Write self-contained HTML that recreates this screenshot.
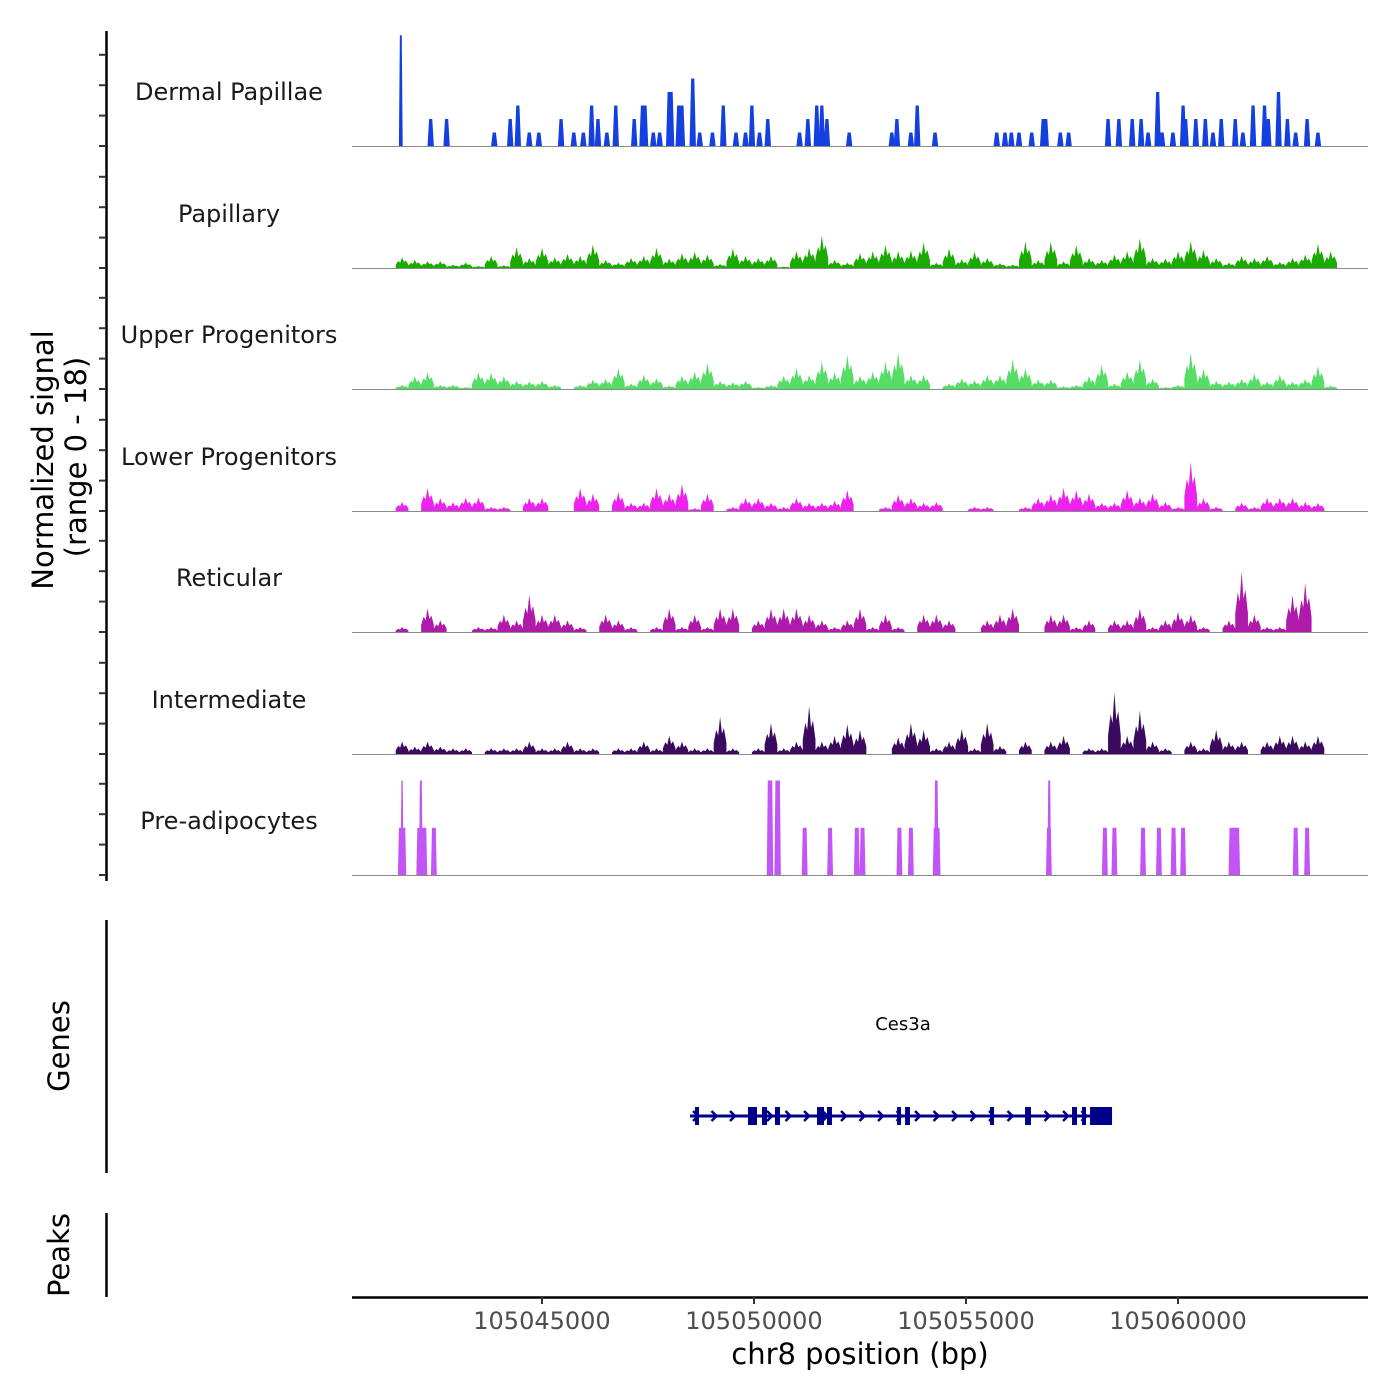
<!DOCTYPE html>
<html><head><meta charset="utf-8">
<style>
html,body{margin:0;padding:0;background:#fff;}
svg{display:block;font-family:"DejaVu Sans","Liberation Sans",sans-serif;}
</style></head>
<body>
<svg id="chart" width="1400" height="1400" viewBox="0 0 1400 1400" xmlns="http://www.w3.org/2000/svg">
<rect width="1400" height="1400" fill="#fff"/>
<g id="tracks"></g>
<g id="axes"></g>
<g id="genes"></g>
</svg>
<script>
// ---- data ----
const trackNames = ["Dermal Papillae","Papillary","Upper Progenitors","Lower Progenitors","Reticular","Intermediate","Pre-adipocytes"];
const trackColors = ["#1340de","#1aaa00","#55dd66","#ee22ee","#b01aaa","#3b0a5e","#c155f5"];
const xTicks = [105045000,105050000,105055000,105060000];
const xTickLabels = ["105045000","105050000","105055000","105060000"];
// Dermal papillae peak positions (bp) and heights (signal)
const dpPos = [105041670,105042375,105042750,105043875,105044250,105044430,105044700,105044925,105045450,105045750,105045975,105046170,105046320,105046530,105046740,105047175,105047370,105047430,105047625,105047775,105048000,105048045,105048225,105048300,105048555,105048720,105049020,105049275,105049575,105049800,105049950,105050130,105050325,105051075,105051270,105051480,105051600,105051720,105052245,105053250,105053370,105053700,105053850,105054270,105055725,105055920,105056070,105056250,105056550,105056820,105056880,105057225,105057420,105058350,105058605,105058920,105059130,105059295,105059520,105059625,105059880,105060120,105060180,105060420,105060645,105060825,105061020,105061350,105061530,105061770,105062040,105062130,105062370,105062580,105062775,105063045,105063300];
const dpVal = [16.4,4,4,2,4,6,2,2,4,2,2,6,4,2,6,4,6,6,2,2,8,8,6,6,10,2,2,6,2,2,6,2,4,2,4,6,6,4,2,2,4,2,6,2,2,2,2,2,2,4,4,2,2,4,4,4,4,2,8,2,2,6,4,4,4,2,4,4,2,6,6,4,8,4,2,4,2];
// binned tracks: bins of 300 bp starting at binStart
const binStart = 105041550;
const binSize = 300;
const papillary = [1.6,1.2,1.0,1.0,0.5,0.8,0.3,1.8,0.4,3.1,1.5,3.0,1.6,2.1,1.8,3.5,1.2,0.8,1.5,1.8,3.0,1.4,2.2,2.4,2.0,0.6,2.9,1.8,1.5,1.8,0.2,2.5,3.0,4.8,1.2,0.8,2.2,2.5,3.4,2.5,2.6,3.8,0.8,2.9,1.3,2.4,1.5,0.7,0.5,3.9,1.2,3.9,1.0,3.4,1.5,1.2,2.0,2.5,4.4,1.5,1.4,2.5,4.0,2.7,1.5,0.8,1.8,1.5,1.8,0.9,1.5,2.0,3.6,2.5];
const upperProg = [0.6,1.9,2.5,0.6,0.6,0.3,2.5,2.4,1.9,1.2,1.1,1.2,0.6,0,0.6,1.4,1.5,3.1,0.8,2.1,1.6,0.5,2.0,2.6,3.9,1.2,1.0,1.2,0.3,0.6,2.0,3.1,2.1,4.1,2.5,5.1,2.0,2.6,4.1,5.4,2.1,2.1,0,0.8,1.6,1.3,2.1,2.1,4.4,3.1,1.4,1.4,0.4,0.6,1.9,3.6,0.8,2.6,4.4,1.5,0.3,0.6,5.4,3.0,1.2,1.1,1.5,2.3,1.1,2.1,1.1,1.5,3.4,0.5];
const lowerProg = [1.35,0,3.4,1.9,1.3,2.0,2.0,0.6,0.6,0,1.95,1.95,0,0,3.4,2.6,0,2.8,1.25,1.25,3.4,2.6,4.0,0.4,2.6,0,0.6,1.95,1.95,1.25,0.6,1.95,1.25,1.25,1.5,3.1,0,0,0.6,2.4,1.95,1.25,1.35,0,0,0.6,0.6,0,0,0.6,1.95,2.5,3.4,3.1,2.6,1.25,1.25,3.1,2.0,2.6,1.35,0.6,7.3,1.9,0.6,0,1.25,0.6,1.95,1.95,1.95,1.35,1.2,0];
const reticular = [0.75,0,3.5,1.75,0,0,0.75,0.75,2.6,1.75,5.5,2.6,2.6,1.75,0.75,0,2.6,1.75,0.75,0,0.75,3.5,0.75,2.6,0.75,3.5,3.5,0,1.75,3.5,3.5,3.5,2.6,1.75,0.75,1.75,3.5,0.75,2.6,0.75,0,2.6,2.6,1.75,0,0,1.75,2.6,3.5,0,0,2.6,2.6,0.75,1.75,0,1.75,1.75,3.5,0.75,1.75,3.0,2.6,0.75,0,1.75,9.0,2.6,0.75,0.75,5.5,7.3,0,0];
const intermediate = [1.85,1.1,1.85,1.1,0.85,0.85,0,0.85,0.85,0.85,1.85,0.85,0.85,1.85,0.85,0.85,0,0.85,0.85,1.85,0.85,2.7,1.85,0.85,0.85,5.5,0.85,0,0.85,4.6,0.85,1.85,7.1,1.85,2.7,4.4,3.6,0,0,2.5,4.6,3.6,0.85,1.85,3.7,0.85,4.6,1.2,0,1.85,0,1.85,2.7,0,0.85,0.85,9.1,2.7,6.4,1.85,0.85,0,1.85,0.85,3.6,1.85,1.85,0,1.85,2.7,2.7,1.85,2.7,0];
// pre-adipocyte blocks: start, end (bp), height
const paStart = [105041625,105041685,105042060,105042120,105042405,105050325,105050505,105051150,105051750,105052380,105052515,105053385,105053655,105054240,105054270,105056910,105056940,105058230,105058455,105059130,105059505,105059850,105060075,105061215,105062730,105063000];
const paEnd   = [105041775,105041715,105042270,105042165,105042495,105050430,105050610,105051240,105051840,105052470,105052605,105053475,105053745,105054375,105054330,105057000,105056985,105058320,105058545,105059220,105059595,105059940,105060165,105061440,105062820,105063090];
const paVal   = [7,14,7,14,7,14,14,7,7,7,7,7,7,7,14,7,14,7,7,7,7,7,7,7,7,7];
// gene model
const geneStart = 105048491, geneEnd = 105058444;
const exonStart = [105048609,105049859,105050189,105050495,105051486,105051722,105053373,105053562,105055566,105056392,105057500,105057736,105057925];
const exonEnd   = [105048703,105050071,105050307,105050613,105051651,105051840,105053467,105053679,105055637,105056533,105057618,105057807,105058444];

// ---- scales ----
const NS="http://www.w3.org/2000/svg";
const X0=352, X1=1368, BP0=105040519, BP1=105064481;
const xs = bp => X0 + (bp-BP0)/(BP1-BP0)*(X1-X0);
const baselines=[146,268,389,511,632,754,875];
const unitPx = 121.5/18;
const ys = (t,v) => baselines[t] - v*unitPx;
function mk(tag, attrs, parent){const e=document.createElementNS(NS,tag);for(const k in attrs)e.setAttribute(k,attrs[k]);parent.appendChild(e);return e;}
const tracksG=document.getElementById('tracks'), axesG=document.getElementById('axes'), genesG=document.getElementById('genes');

function poly(t, pts, name){
  const p=mk('polygon',{points:pts.map(q=>q.join(',')).join(' '),fill:trackColors[t]},tracksG);
  
  
}
// dermal papillae
dpPos.forEach((pos,i)=>{
  const h=ys(0,dpVal[i]), b=baselines[0];
  const half = i===0 ? 45 : 75;
  poly(0,[[xs(pos-half),b],[xs(pos-half*0.5),h],[xs(pos+half*0.5),h],[xs(pos+half),b]],'dermal-papillae-peak');
});
// binned tracks
[[1,papillary,'papillary'],[2,upperProg,'upper-progenitors'],[3,lowerProg,'lower-progenitors'],[4,reticular,'reticular'],[5,intermediate,'intermediate']].forEach(([t,arr,nm])=>{
  const b=baselines[t]; const pts=[[xs(binStart),b]];
  arr.forEach((v,i)=>{
    const s=binStart+i*binSize;
    if(v===0){pts.push([xs(s),b]);pts.push([xs(s+binSize),b]);return;}
    pts.push([xs(s),ys(t,v*0.3)]);
    pts.push([xs(s+binSize*0.2),ys(t,v*0.65)]);
    pts.push([xs(s+binSize*0.35),ys(t,v*0.5)]);
    pts.push([xs(s+binSize*0.5),ys(t,v)]);
    pts.push([xs(s+binSize*0.65),ys(t,v*0.55)]);
    pts.push([xs(s+binSize*0.8),ys(t,v*0.7)]);
    pts.push([xs(s+binSize),ys(t,v*0.3)]);
  });
  pts.push([xs(binStart+arr.length*binSize),b]);
  poly(t,pts,nm+'-signal');
});
// pre-adipocytes
paStart.forEach((s,i)=>{
  const b=baselines[6], h=ys(6,paVal[i]);
  poly(6,[[xs(s)-1,b],[xs(s),h],[xs(paEnd[i]),h],[xs(paEnd[i])+1,b]],'pre-adipocytes-peak');
});
// baselines and track labels
baselines.forEach((b,t)=>{
  const l=mk('line',{x1:X0,x2:X1,y1:b+0.5,y2:b+0.5,stroke:'#8a8a8a','stroke-width':1},tracksG);
  
  
  const tx=mk('text',{x:229,y:b-46,'text-anchor':'middle','font-size':'24','fill':'#1a1a1a'},tracksG);
  tx.textContent=trackNames[t];
  
  
});
// left axis
const ax=mk('line',{x1:106.5,x2:106.5,y1:31,y2:881,stroke:'#000','stroke-width':2.5},axesG);


baselines.forEach(b=>{for(let k=0;k<4;k++){
  const y=b-k*30.4;
  const tk=mk('line',{x1:99,x2:106,y1:y,y2:y,stroke:'#333','stroke-width':2},axesG);
  
  
}});
function vtext(txt,x,y,name){
  const t=mk('text',{x:x,y:y,'text-anchor':'middle','font-size':'29',fill:'#000',transform:`rotate(-90 ${x} ${y})`},axesG);
  t.textContent=txt;
  
  
}
vtext('Normalized signal',53,460,'y-axis-title');
vtext('(range 0 - 18)',86,457,'y-axis-subtitle');
vtext('Genes',69,1046,'genes-axis-title');
vtext('Peaks',69,1255,'peaks-axis-title');
[[920,1173,'genes-axis-line'],[1213,1297,'peaks-axis-line']].forEach(([a,b,n])=>{
  const l=mk('line',{x1:106.5,x2:106.5,y1:a,y2:b,stroke:'#000','stroke-width':2.5},axesG);
  
  
});
// bottom x axis
const xa=mk('line',{x1:X0,x2:X1,y1:1297.5,y2:1297.5,stroke:'#000','stroke-width':2.5},axesG);


xTicks.forEach((v,i)=>{
  const x=xs(v);
  const tk=mk('line',{x1:x,x2:x,y1:1297,y2:1304,stroke:'#333','stroke-width':2},axesG);
  
  
  const t=mk('text',{x:x,y:1329,'text-anchor':'middle','font-size':'24',fill:'#4d4d4d'},axesG);
  t.textContent=xTickLabels[i];
  
  
});
const xt=mk('text',{x:860,y:1364,'text-anchor':'middle','font-size':'29',fill:'#000'},axesG);
xt.textContent='chr8 position (bp)';


// gene model
const gy=1116;
const gl=mk('line',{x1:xs(geneStart),x2:xs(geneEnd),y1:gy,y2:gy,stroke:'#00008b','stroke-width':3},genesG);


for(let x=xs(geneStart)+3;x<xs(geneEnd)-8;x+=18.5){
  const c=mk('polyline',{points:`${x},${gy-5} ${x+5},${gy} ${x},${gy+5}`,fill:'none',stroke:'#00008b','stroke-width':2.5},genesG);
  
  
}
exonStart.forEach((s,i)=>{
  const r=mk('rect',{x:xs(s),y:gy-9,width:Math.max(4,xs(exonEnd[i])-xs(s)),height:18,fill:'#00008b'},genesG);
  
  
});
const gt=mk('text',{x:903,y:1030,'text-anchor':'middle','font-size':'18',fill:'#000'},genesG);
gt.textContent='Ces3a';


</script>
</body></html>
